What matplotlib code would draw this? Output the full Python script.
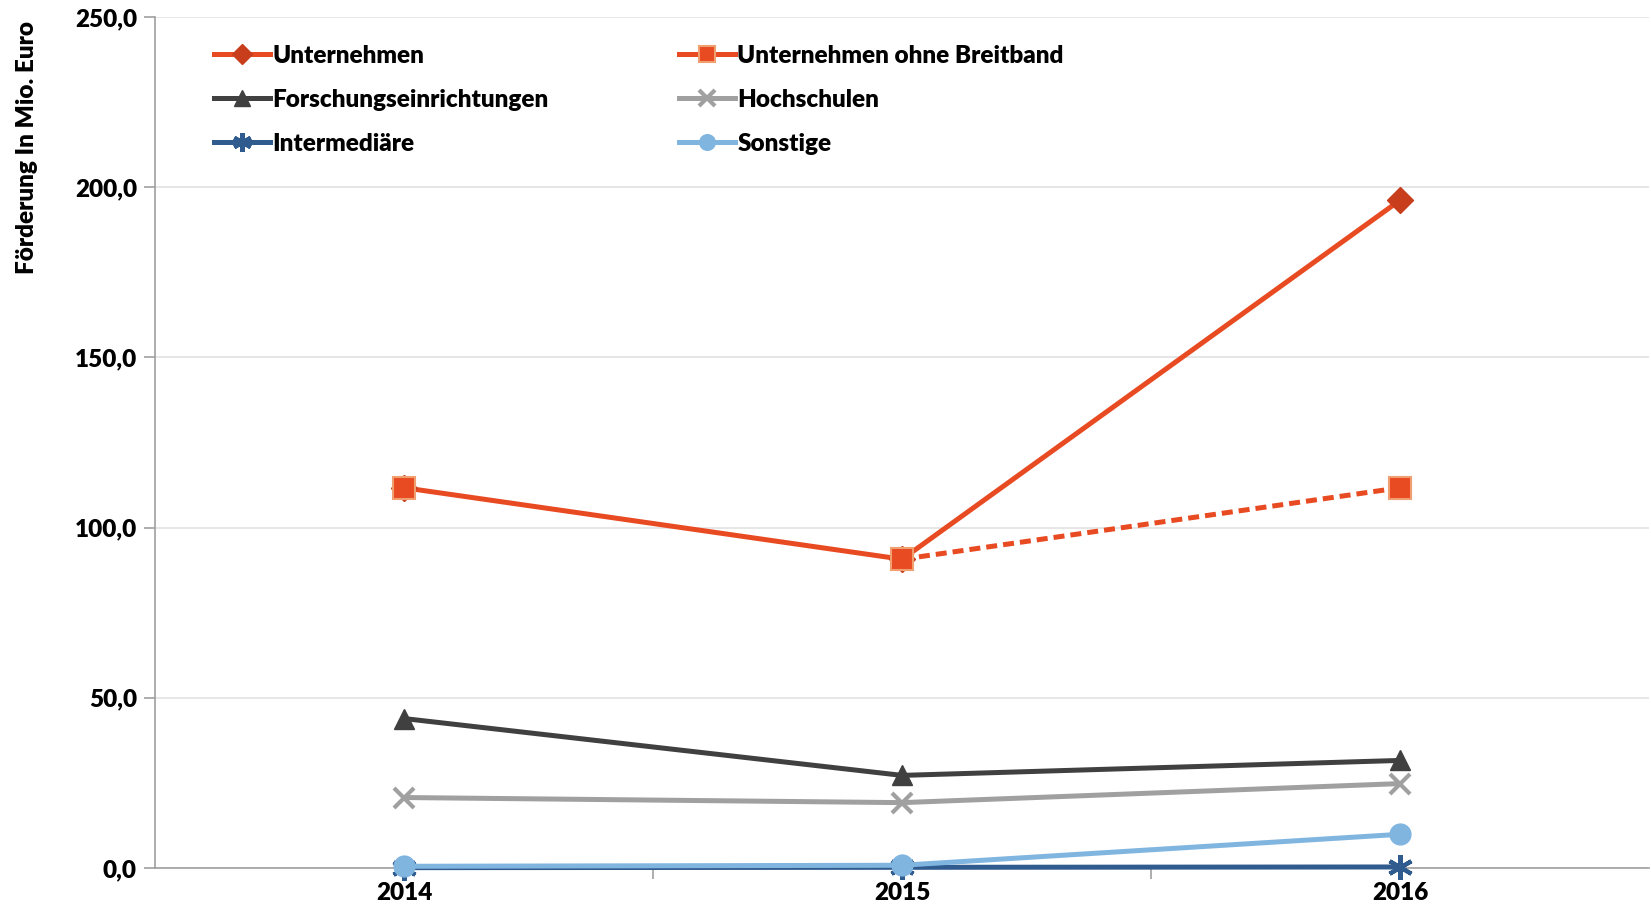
import numpy as np
import matplotlib.pyplot as plt
from matplotlib.ticker import FuncFormatter, FixedLocator

plt.rcParams['font.family'] = ['Lato', 'DejaVu Sans']
plt.rcParams['font.weight'] = 'heavy'

# data (Mio. Euro)
years = ["2014", "2015", "2016"]
unternehmen = [111.7, 90.7, 196.2]
unternehmen_ohne_bb = [111.7, 90.7, 111.7]
forschung = [43.9, 27.2, 31.6]
hochschulen = [20.7, 19.2, 24.8]
intermediaere = [0.1, 0.2, 0.3]
sonstige = [0.5, 0.8, 9.9]

x = np.arange(len(years))

fig = plt.figure(figsize=(16.51, 9.13), dpi=100)
ax = fig.add_axes([0.0939, 0.0493, 0.905, 0.9321])

red = "#E84A22"
lw = 3.6
fs = 17.5

ax.plot(x, intermediaere, color="#2F5B8F", lw=lw, marker=(6, 2, 0), ms=18, mew=3,
        label="Intermediäre", zorder=3, clip_on=False)
ax.plot(x, sonstige, color="#80B5E0", lw=lw, marker="o", ms=15,
        label="Sonstige", zorder=4, clip_on=False)
ax.plot(x, hochschulen, color="#A0A0A0", lw=lw, marker="x", ms=15, mew=3,
        label="Hochschulen", zorder=3)
ax.plot(x, forschung, color="#404040", lw=lw, marker="^", ms=15,
        label="Forschungseinrichtungen", zorder=3)
ax.plot(x, unternehmen, color=red, lw=lw, marker="D", ms=13, mfc="#C83D1C",
        mec="#C83D1C", label="Unternehmen", zorder=4)
# ohne Breitband: solid up to 2015, dashed afterwards
ax.plot(x[1:], unternehmen_ohne_bb[1:], color=red, lw=lw, ls=(0, (2.2, 1.2)),
        zorder=4)
ax.plot(x, unternehmen_ohne_bb, color=red, lw=0, marker="s", ms=16,
        mfc=red, mec="#F0A070", mew=1.5, zorder=5)
ax.plot([], [], color=red, lw=lw, marker="s", ms=16, mfc=red, mec="#F0A070",
        mew=1.5, label="Unternehmen ohne Breitband")

ax.set_xlim(-0.5, 2.5)
ax.set_ylim(0, 250)
ax.set_xticks(x)
ax.set_xticklabels(years)
ax.xaxis.set_minor_locator(FixedLocator([0.5, 1.5]))
ax.tick_params(axis="x", which="major", length=0, pad=10, labelsize=fs)
ax.tick_params(axis="x", which="minor", length=8, color="#A0A0A0", width=1.2)
ax.set_yticks(np.arange(0, 251, 50))
ax.yaxis.set_major_formatter(FuncFormatter(lambda v, p: f"{v:.1f}".replace(".", ",")))
ax.tick_params(axis="y", length=8, color="#A0A0A0", width=1.2, labelsize=fs, pad=5)
ax.grid(axis="y", color="#E2E2E2", lw=1.2)
ax.set_axisbelow(True)
for s in ["top", "right"]:
    ax.spines[s].set_visible(False)
for s in ["left", "bottom"]:
    ax.spines[s].set_color("#A0A0A0")
    ax.spines[s].set_linewidth(1.2)

fig.text(0.0165, 0.838, "Förderung In Mio. Euro", rotation=90, ha="center",
         va="center", fontsize=fs)

handles, labels = ax.get_legend_handles_labels()
order = ["Unternehmen", "Forschungseinrichtungen", "Intermediäre",
         "Unternehmen ohne Breitband", "Hochschulen", "Sonstige"]
hmap = dict(zip(labels, handles))
leg = ax.legend([hmap[l] for l in order], order, ncol=2, loc="upper left",
                bbox_to_anchor=(0.025, 0.993), frameon=False, fontsize=fs,
                handlelength=2.3, handletextpad=0.1, columnspacing=5.35,
                labelspacing=0.9, markerscale=0.75)

fig.savefig("out.png", dpi=100)
